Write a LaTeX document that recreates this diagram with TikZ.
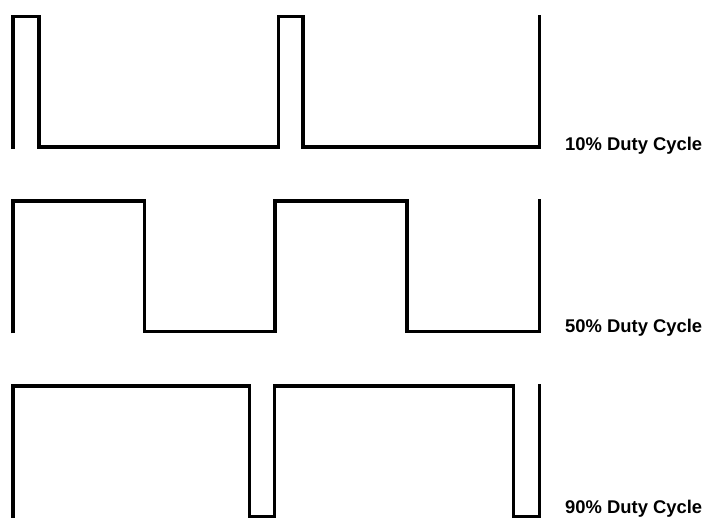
\documentclass[tikz,border=0pt]{standalone}
\usepackage{fontspec}
\setmainfont{Liberation Sans}
\usepackage{tikz}
\usetikzlibrary{positioning}

\begin{document}
\begin{tikzpicture}[
    x=1pt,
    y=-1pt,
    wave/.style={
        line width=3.5pt,
        line join=miter,
        black
    },
    duty/.style={
        anchor=base west,
        inner sep=0pt,
        font=\fontsize{18.4}{20}\selectfont\bfseries
    }
]

\useasboundingbox (0,0) rectangle (706,518);

% 10% duty cycle
\draw[wave] (13,149) -- (13,16.75) -- (39,16.75) -- (39,147.25)
    -- (278.5,147.25) -- (278.5,16.75) -- (303,16.75) -- (303,147.25)
    -- (539.5,147.25) -- (539.5,15);

\node[duty] (ten) at (565,150.6)
{10\% Duty Cycle};

% 50% duty cycle
\draw[wave] (13,333.3) -- (13,200.9) -- (144.5,200.9) -- (144.5,331.3)
    -- (275,331.3) -- (275,200.9) -- (407,200.9) -- (407,331.3)
    -- (539.5,331.3) -- (539.5,199);

\node[duty] (fifty) at (565,332.7)
{50\% Duty Cycle};

% 90% duty cycle
\draw[wave] (13,518) -- (13,385.8) -- (249.3,385.8) -- (249.3,516.4)
    -- (274.3,516.4) -- (274.3,385.8) -- (513.6,385.8) -- (513.6,516.4)
    -- (539.3,516.4) -- (539.3,384);

\node[duty] (ninety) at (565,513.8)
{90\% Duty Cycle};

\end{tikzpicture}
\end{document}
